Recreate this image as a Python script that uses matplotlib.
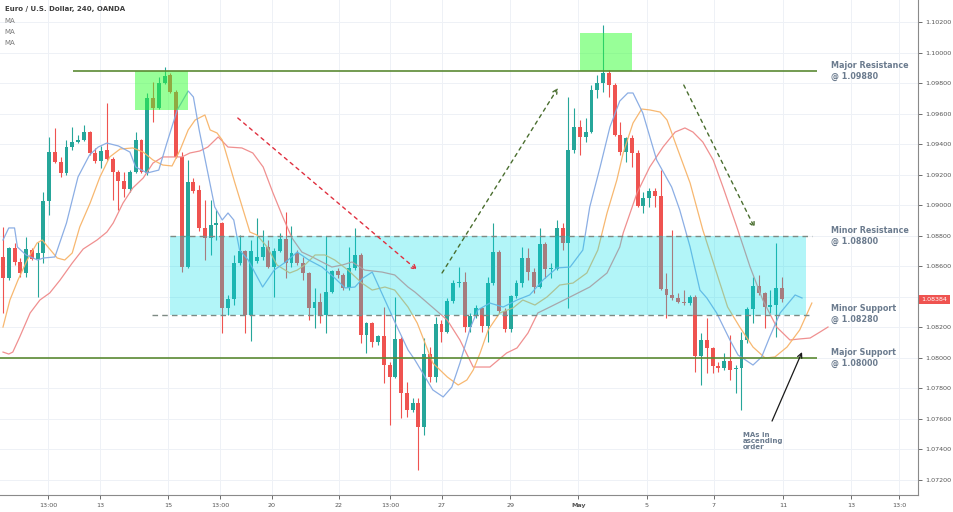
import numpy as np
import matplotlib
matplotlib.use('Agg')
import matplotlib.pyplot as plt
from matplotlib.patches import Rectangle
import matplotlib.transforms as mtransforms

# EUR/USD 4h candles (OANDA)
opens = [1.08661, 1.08523, 1.08720, 1.08628, 1.08556, 1.08706, 1.08648, 1.08687, 1.09027, 1.09348,
         1.09283, 1.09211, 1.09381, 1.09414, 1.09427, 1.09479, 1.09342, 1.09289, 1.09362, 1.09303,
         1.09217, 1.09158, 1.09106, 1.09217, 1.09427, 1.09211, 1.09702, 1.09637, 1.09800, 1.09853,
         1.09741, 1.09316, 1.08595, 1.09152, 1.09100, 1.08851, 1.08785, 1.08870, 1.08883, 1.08327,
         1.08386, 1.08621, 1.08700, 1.08281, 1.08634, 1.08661, 1.08726, 1.08595, 1.08700, 1.08779,
         1.08621, 1.08687, 1.08621, 1.08556, 1.08327, 1.08366, 1.08281, 1.08431, 1.08569, 1.08543,
         1.08458, 1.08589, 1.08674, 1.08150, 1.08228, 1.08104, 1.08143, 1.07953, 1.07875, 1.08124,
         1.07770, 1.07659, 1.07704, 1.07547, 1.08025, 1.07875, 1.08222, 1.08169, 1.08372, 1.08490,
         1.08497, 1.08202, 1.08274, 1.08327, 1.08209, 1.08490, 1.08693, 1.08307, 1.08189, 1.08405,
         1.08490, 1.08654, 1.08562, 1.08464, 1.08746, 1.08582, 1.08582, 1.08851, 1.08752, 1.09362,
         1.09512, 1.09447, 1.09479, 1.09754, 1.09800, 1.09866, 1.09787, 1.09460, 1.09348, 1.09440,
         1.09342, 1.08995, 1.09047, 1.09093, 1.09060, 1.08451, 1.08412, 1.08392, 1.08366, 1.08359,
         1.08399, 1.08012, 1.08117, 1.08065, 1.07947, 1.07934, 1.07979, 1.07927, 1.07934, 1.08117,
         1.08320, 1.08471, 1.08425, 1.08333, 1.08346, 1.08458]
highs = [1.08857, 1.08726, 1.08752, 1.08654, 1.08792, 1.08720, 1.08759, 1.09086, 1.09447, 1.09506,
         1.09316, 1.09427, 1.09512, 1.09460, 1.09525, 1.09486, 1.09375, 1.09388, 1.09669, 1.09316,
         1.09230, 1.09217, 1.09230, 1.09479, 1.09434, 1.09735, 1.09807, 1.09840, 1.09905, 1.09866,
         1.09754, 1.09348, 1.09296, 1.09178, 1.09132, 1.09034, 1.09034, 1.08969, 1.08890, 1.08412,
         1.08674, 1.08805, 1.08706, 1.08772, 1.08916, 1.08838, 1.08772, 1.08720, 1.08818, 1.08955,
         1.08864, 1.08706, 1.08661, 1.08562, 1.08458, 1.08425, 1.08798, 1.08575, 1.08589, 1.08556,
         1.08726, 1.08851, 1.08687, 1.08235, 1.08235, 1.08150, 1.08333, 1.07973, 1.08399, 1.08137,
         1.07842, 1.07737, 1.07737, 1.08130, 1.08071, 1.08268, 1.08248, 1.08392, 1.08510, 1.08595,
         1.08562, 1.08294, 1.08346, 1.08333, 1.08530, 1.08883, 1.08706, 1.08327, 1.08412, 1.08510,
         1.08726, 1.08720, 1.08589, 1.08851, 1.08759, 1.08621, 1.08903, 1.08883, 1.09709, 1.09637,
         1.09558, 1.09571, 1.09787, 1.09853, 1.10180, 1.09885, 1.09800, 1.09545, 1.09447, 1.09460,
         1.09362, 1.09086, 1.09113, 1.09113, 1.09230, 1.08556, 1.08838, 1.08425, 1.08444, 1.08412,
         1.08412, 1.08163, 1.08261, 1.08071, 1.07973, 1.08032, 1.08150, 1.07953, 1.08169, 1.08333,
         1.08530, 1.08543, 1.08431, 1.08444, 1.08752, 1.08530]
lows = [1.08294, 1.08510, 1.08608, 1.08530, 1.08530, 1.08641, 1.08399, 1.08621, 1.08936, 1.09276,
        1.09185, 1.09198, 1.09362, 1.09407, 1.09420, 1.09329, 1.09276, 1.09244, 1.09296, 1.09034,
        1.08969, 1.09054, 1.09086, 1.09211, 1.09211, 1.09198, 1.09545, 1.09630, 1.09794, 1.09735,
        1.09309, 1.08562, 1.08589, 1.09080, 1.08831, 1.08641, 1.08674, 1.08772, 1.08163, 1.08281,
        1.08346, 1.08608, 1.08163, 1.08110, 1.08621, 1.08641, 1.08589, 1.08399, 1.08693, 1.08523,
        1.08595, 1.08608, 1.08510, 1.08248, 1.08196, 1.08228, 1.08163, 1.08425, 1.08523, 1.08444,
        1.08444, 1.08575, 1.08097, 1.08032, 1.08071, 1.08084, 1.07835, 1.07560, 1.07868, 1.07606,
        1.07613, 1.07645, 1.07265, 1.07495, 1.07842, 1.07842, 1.08104, 1.08163, 1.08359, 1.08464,
        1.08169, 1.08169, 1.08261, 1.08169, 1.08104, 1.08477, 1.08294, 1.08169, 1.08169, 1.08392,
        1.08464, 1.08510, 1.08425, 1.08458, 1.08523, 1.08523, 1.08575, 1.08706, 1.08327, 1.09342,
        1.09329, 1.09414, 1.09473, 1.09702, 1.09741, 1.09709, 1.09454, 1.09329, 1.09283, 1.09250,
        1.08988, 1.08949, 1.08988, 1.08988, 1.08444, 1.08261, 1.08379, 1.08359, 1.08346, 1.08346,
        1.07907, 1.07822, 1.07901, 1.07901, 1.07907, 1.07920, 1.07855, 1.07770, 1.07659, 1.08097,
        1.08228, 1.08412, 1.08196, 1.08294, 1.08137, 1.08366]
closes = [1.08523, 1.08720, 1.08628, 1.08556, 1.08713, 1.08648, 1.08687, 1.09027, 1.09348, 1.09283,
          1.09211, 1.09381, 1.09414, 1.09427, 1.09479, 1.09342, 1.09289, 1.09355, 1.09303, 1.09217,
          1.09158, 1.09106, 1.09217, 1.09427, 1.09217, 1.09702, 1.09637, 1.09800, 1.09846, 1.09741,
          1.09316, 1.08595, 1.09152, 1.09093, 1.08851, 1.08785, 1.08870, 1.08883, 1.08327, 1.08386,
          1.08621, 1.08700, 1.08281, 1.08700, 1.08661, 1.08726, 1.08595, 1.08700, 1.08779, 1.08621,
          1.08687, 1.08621, 1.08556, 1.08327, 1.08366, 1.08281, 1.08431, 1.08569, 1.08543, 1.08458,
          1.08589, 1.08674, 1.08150, 1.08228, 1.08104, 1.08143, 1.07953, 1.07875, 1.08124, 1.07770,
          1.07659, 1.07704, 1.07547, 1.08025, 1.07875, 1.08222, 1.08169, 1.08372, 1.08490, 1.08497,
          1.08202, 1.08274, 1.08327, 1.08209, 1.08490, 1.08693, 1.08307, 1.08189, 1.08405, 1.08490,
          1.08654, 1.08562, 1.08464, 1.08746, 1.08582, 1.08589, 1.08851, 1.08752, 1.09362, 1.09512,
          1.09447, 1.09479, 1.09754, 1.09800, 1.09866, 1.09787, 1.09460, 1.09348, 1.09440, 1.09342,
          1.08995, 1.09047, 1.09093, 1.09060, 1.08451, 1.08412, 1.08392, 1.08366, 1.08359, 1.08399,
          1.08012, 1.08117, 1.08065, 1.07947, 1.07934, 1.07979, 1.07920, 1.07934, 1.08117, 1.08320,
          1.08471, 1.08425, 1.08333, 1.08346, 1.08458, 1.08384]

# the three moving averages (shifted forward), traced as candle index / price
fast_idx = [0, 1, 2, 2.5, 4, 6, 7, 9, 11, 13, 15, 16.5, 18, 20, 22, 23, 25, 27, 28.4, 30.2,
            32.1, 33, 34, 36.7, 38, 39, 40, 41, 42.5, 45, 47, 49, 51, 53, 55.3, 57.5, 59.3, 61, 62.4, 64,
            66.2, 68, 70.2, 71.4, 74.5, 76.3, 77.8, 79.2, 81, 82.3, 84.4, 86.7, 89.1, 91.3, 93.6, 96, 98.3,
            100.5, 101.7, 103.5, 105.2, 106.9, 108.3, 109.2, 110.9, 113.3, 115.9, 117.3, 119.1, 120.8,
            122, 123.7, 126, 127.4, 130, 131.5, 132.9, 134.7, 137.3, 138.5]
fast_ma = [1.08772, 1.08851, 1.08851, 1.08726, 1.08674, 1.08641, 1.08654, 1.08661, 1.08883, 1.09185,
           1.09329, 1.09381, 1.09407, 1.09388, 1.09348, 1.09250, 1.09211, 1.09230, 1.09407, 1.09624,
           1.09748, 1.09709, 1.09493, 1.08988, 1.08903, 1.08949, 1.08903, 1.08706, 1.08641, 1.08464,
           1.08575, 1.08628, 1.08693, 1.08641, 1.08595, 1.08523, 1.08458, 1.08464, 1.08523, 1.08562,
           1.08379, 1.08228, 1.08052, 1.07986, 1.07790, 1.07744, 1.07809, 1.07966, 1.08196, 1.08314,
           1.08359, 1.08333, 1.08379, 1.08412, 1.08510, 1.08589, 1.08595, 1.08706, 1.08988, 1.09250,
           1.09512, 1.09682, 1.09735, 1.09735, 1.09604, 1.09296, 1.09119, 1.08969, 1.08726, 1.08444,
           1.08392, 1.08294, 1.08117, 1.08019, 1.07953, 1.08006, 1.08137, 1.08294, 1.08412, 1.08392]
mid_idx = [0, 1.2, 2.6, 4.2, 5.9, 6.8, 7.8, 9.4, 10.7, 12, 13.3, 15.1, 16.8, 18.5, 20.3, 22.5, 24.3,
           26, 27.7, 29.3, 30.7, 32.1, 33.3, 35, 35.9, 37.1, 38, 40.2, 42.8, 44, 45.8, 47.5, 49.7, 51,
           52.3, 54.1, 55.8, 57.5, 59.8, 62.2, 64, 66.2, 67.9, 70.2, 71.8, 74.5, 77, 78.9, 80.4, 81.5,
           82.7, 84.1, 86.1, 88.4, 90.1, 92.2, 94.3, 96.5, 98.8, 101.2, 103.1, 104.7, 106.4, 107.5,
           109.2, 110.7, 112.1, 113.9, 115.1, 116.8, 119.1, 121.3, 123.7, 125.6, 127.7, 130, 132.1,
           133.8, 135.9, 138.1, 140.2]
mid_ma = [1.08202, 1.08379, 1.08510, 1.08641, 1.08752, 1.08772, 1.08726, 1.08654, 1.08641, 1.08687,
          1.08857, 1.09014, 1.09185, 1.09316, 1.09368, 1.09375, 1.09348, 1.09296, 1.09263, 1.09257,
          1.09362, 1.09493, 1.09558, 1.09591, 1.09493, 1.09473, 1.09427, 1.09145, 1.08824, 1.08805,
          1.08726, 1.08608, 1.08556, 1.08575, 1.08608, 1.08674, 1.08674, 1.08641, 1.08575, 1.08490,
          1.08444, 1.08464, 1.08444, 1.08333, 1.08228, 1.07966, 1.07875, 1.07822, 1.07855, 1.07920,
          1.08032, 1.08183, 1.08294, 1.08327, 1.08379, 1.08346, 1.08399, 1.08477, 1.08490, 1.08556,
          1.08706, 1.08949, 1.09165, 1.09342, 1.09538, 1.09630, 1.09624, 1.09610, 1.09558, 1.09381,
          1.09145, 1.08838, 1.08556, 1.08333, 1.08202, 1.08071, 1.07999, 1.08006, 1.08071, 1.08183,
          1.08359]
slow_idx = [0, 1, 1.7, 2.9, 4.7, 6.4, 8.1, 9.9, 12, 13.9, 16.3, 18, 19.1, 20.8, 22.5, 24.3, 26, 27.7,
            29.5, 31, 32.4, 34.1, 35.5, 37.3, 39, 41.4, 43.3, 45.1, 46.8, 48.5, 50.1, 51.8, 53.6, 55.3,
            57, 58.8, 60.5, 62.7, 65.7, 67.9, 70.2, 71.4, 77, 79.2, 81.5, 84.4, 87.3, 89.1, 91, 92.7,
            94.8, 98.3, 101.7, 104.7, 106.9, 107.5, 109.9, 112.1, 114.4, 116.5, 118.2, 119.6, 121.3,
            123.1, 124.8, 127.2, 129.5, 131.7, 134.1, 136.4, 138.1, 139.9, 141.6, 143]
slow_ma = [1.08038, 1.08025, 1.08038, 1.08137, 1.08294, 1.08379, 1.08425, 1.08510, 1.08621, 1.08713,
           1.08772, 1.08824, 1.08883, 1.09014, 1.09113, 1.09178, 1.09276, 1.09316, 1.09316, 1.09316,
           1.09342, 1.09355, 1.09381, 1.09447, 1.09381, 1.09375, 1.09342, 1.09250, 1.09080, 1.08923,
           1.08785, 1.08693, 1.08661, 1.08628, 1.08595, 1.08608, 1.08628, 1.08575, 1.08562, 1.08543,
           1.08464, 1.08431, 1.08248, 1.08117, 1.07940, 1.07940, 1.08032, 1.08065, 1.08163, 1.08294,
           1.08333, 1.08399, 1.08464, 1.08556, 1.08726, 1.08818, 1.09080, 1.09250, 1.09381, 1.09479,
           1.09506, 1.09479, 1.09414, 1.09296, 1.09119, 1.08857, 1.08595, 1.08379, 1.08202, 1.08117,
           1.08124, 1.08130, 1.08169, 1.08202]

# levels drawn on the chart
major_res = 1.09880
minor_res = 1.08800
minor_sup = 1.08280
major_sup = 1.08000
last_price = 1.08384

xtick_pos = [7.8, 16.8, 28.6, 37.6, 46.6, 58.2, 67.1, 76.1, 87.9, 99.7, 111.6, 123.2, 135.2, 147.0, 155.3]
xtick_labels = ['13:00', '13', '15', '13:00', '20', '22', '13:00', '27', '29', 'May', '5', '7', '11', '13', '13:0']
ytick_vals = np.arange(1.072, 1.1021, 0.002)

UP = '#26a69a'
DOWN = '#ef5350'
TXT = '#6b7b8e'

fig = plt.figure(figsize=(9.54, 5.12), dpi=100)
ax = fig.add_axes([0, 17 / 512, 918 / 954, 495 / 512])
ax.set_xlim(-0.52, 158.6)
ax.set_ylim(1.071017, 1.103441)

# grid
for y in ytick_vals:
    ax.axhline(y, color='#eef1f6', lw=0.7, zorder=0)
for x in xtick_pos:
    ax.axvline(x, color='#eef1f6', lw=0.7, zorder=0)

# candles
o = np.array(opens); h = np.array(highs); l = np.array(lows); c = np.array(closes)
idx = np.arange(len(o))
cols = np.where(c >= o, UP, DOWN)
ax.vlines(idx, l, h, colors=cols, lw=0.8, zorder=2)
body = np.maximum(np.abs(c - o), 0.00004)
ax.bar(idx, body, bottom=np.minimum(o, c), width=0.68, color=cols, lw=0, zorder=2)

# moving averages
ax.plot(slow_idx, slow_ma, color='#ef8a8a', lw=0.9, alpha=0.95, zorder=3)
ax.plot(mid_idx, mid_ma, color='#f7b469', lw=0.9, alpha=0.95, zorder=3)
ax.plot(fast_idx, fast_ma, color='#86aae3', lw=0.9, alpha=0.95, zorder=3)

# range box and highlighted tops
ax.add_patch(Rectangle((28.9, minor_sup), 139.2 - 28.9, minor_res - minor_sup,
                       facecolor=(0, 222 / 255, 235 / 255), alpha=0.3, lw=0, zorder=4))
ax.add_patch(Rectangle((22.9, 1.09624), 9.2, major_res - 1.09624,
                       facecolor='#33ff33', alpha=0.5, lw=0, zorder=4))
ax.add_patch(Rectangle((100.0, major_res), 9.0, 1.10128 - major_res,
                       facecolor='#33ff33', alpha=0.5, lw=0, zorder=4))

# support / resistance
ax.hlines(major_res, 12.1, 141.1, color='#5b8a33', lw=1.2, zorder=5)
ax.hlines(major_sup, -0.52, 141.1, color='#5b8a33', lw=1.2, zorder=5)
ax.hlines(minor_res, 28.9, 140.2, color='#7d8a84', lw=1.0, linestyles=(0, (4, 3)), zorder=5)
ax.hlines(minor_sup, 25.8, 140.2, color='#7d8a84', lw=1.0, linestyles=(0, (4, 3)), zorder=5)

# arrows
def arrow(x0, y0, x1, y1, color, dashed=True, lw=1.0):
    ax.annotate('', xy=(x1, y1), xytext=(x0, y0),
                arrowprops=dict(arrowstyle='->', color=color, lw=lw, shrinkA=0, shrinkB=0,
                                mutation_scale=8,
                                linestyle=(0, (2.5, 3)) if dashed else '-'),
                zorder=6)

arrow(40.7, 1.09571, 71.8, 1.08575, '#e0303f')
arrow(76.1, 1.08556, 96.2, 1.09768, '#4a6e2f')
arrow(118.0, 1.09787, 130.3, 1.08851, '#4a6e2f')
arrow(133.3, 1.07586, 138.5, 1.08038, '#1a1a1a', dashed=False, lw=0.9)

# labels
lab = dict(color=TXT, fontsize=5.8, fontweight='bold', va='center', ha='left', linespacing=1.25, zorder=7)
ax.text(143.5, major_res, 'Major Resistance\n@ 1.09880', **lab)
ax.text(143.5, minor_res, 'Minor Resistance\n@ 1.08800', **lab)
ax.text(143.5, 1.08290, 'Minor Support\n@ 1.08280', **lab)
ax.text(143.5, major_sup, 'Major Support\n@ 1.08000', **lab)
ax.text(128.3, 1.07514, 'MAs in\nascending\norder', color=TXT, fontsize=5.0, fontweight='bold',
        va='top', ha='left', linespacing=1.0, zorder=7)

ax.text(0.005, 1 - 9 / 495, 'Euro / U.S. Dollar, 240, OANDA', transform=ax.transAxes,
        fontsize=5.0, fontweight='bold', color='#3d3d3d', va='center', ha='left')
for k in range(3):
    ax.text(0.005, 1 - (21 + 11 * k) / 495, 'MA', transform=ax.transAxes,
            fontsize=5.0, color='#7a7a7a', va='center', ha='left')

# axes styling
for s in ['top', 'left']:
    ax.spines[s].set_visible(False)
ax.spines['right'].set_color('#8a8a8a')
ax.spines['bottom'].set_color('#8a8a8a')
ax.spines['right'].set_linewidth(0.8)
ax.spines['bottom'].set_linewidth(0.8)
ax.yaxis.tick_right()
ax.set_yticks(ytick_vals)
# the 1.08400 label is covered by the last-price tag
ax.set_yticklabels(['' if abs(v - 1.084) < 1e-6 else '%.5f' % v for v in ytick_vals])
ax.set_xticks(xtick_pos)
ax.set_xticklabels(xtick_labels)
ax.tick_params(axis='y', labelsize=4.6, colors='#555555', length=3, width=0.6, pad=2)
ax.tick_params(axis='x', labelsize=4.6, colors='#555555', length=3, width=0.6, pad=3)
for t in ax.get_xticklabels():
    if t.get_text() == 'May':
        t.set_fontweight('bold')

# last price tag
trans = mtransforms.blended_transform_factory(ax.transAxes, ax.transData)
ax.text(1.004, last_price, '%.5f' % last_price, transform=trans, fontsize=4.6, color='white',
        va='center', ha='left', clip_on=False, zorder=8,
        bbox=dict(boxstyle='square,pad=0.35', facecolor=DOWN, edgecolor='none'))

fig.savefig('out.png', dpi=100)
